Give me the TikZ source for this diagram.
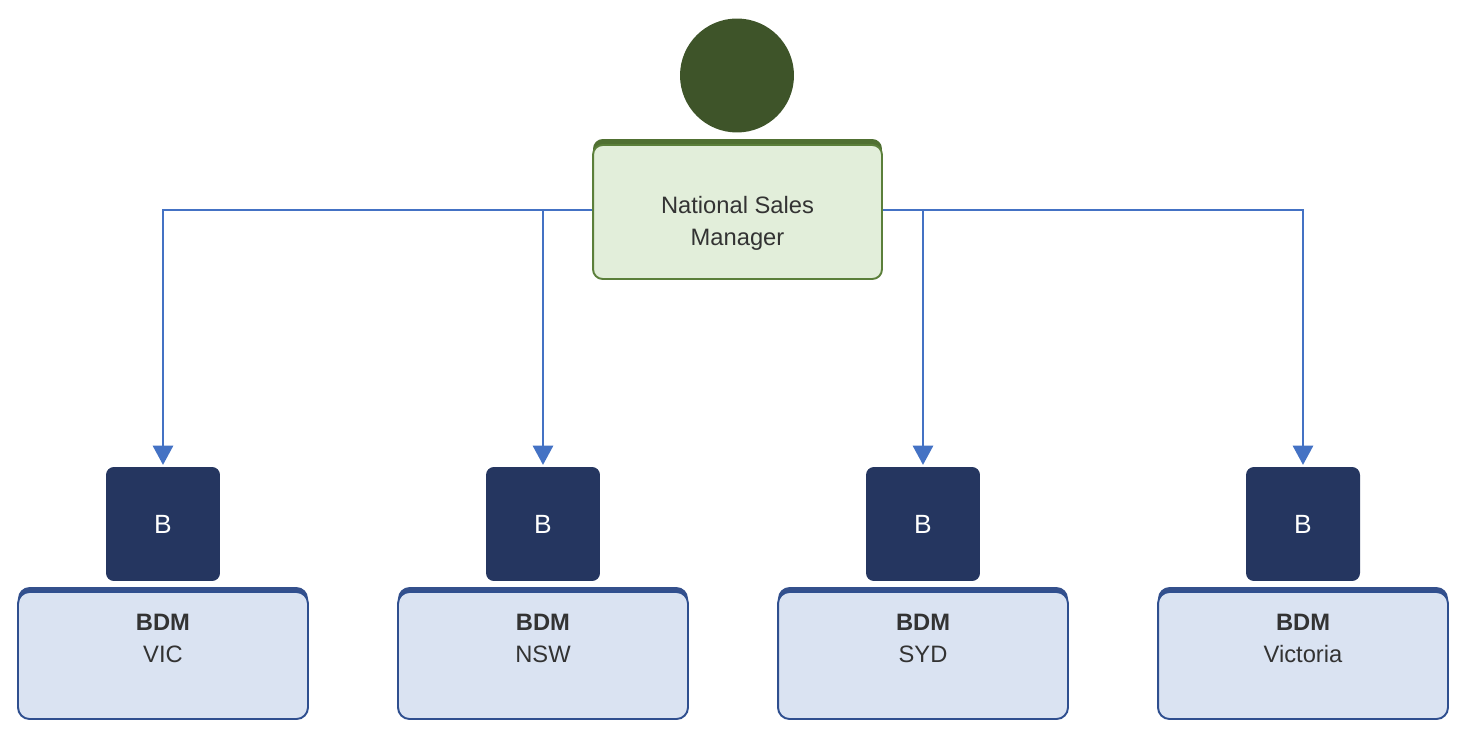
\documentclass[tikz,border=0pt]{standalone}
\usepackage{fontspec}
\setmainfont{Liberation Sans}
\usetikzlibrary{arrows.meta,positioning}
\definecolor{headgreen}{RGB}{62,84,41}
\definecolor{nsmfill}{RGB}{226,238,218}
\definecolor{nsmline}{RGB}{91,127,58}
\definecolor{nsmband}{RGB}{80,112,50}
\definecolor{bnavy}{RGB}{37,54,96}
\definecolor{bdmfill}{RGB}{218,227,242}
\definecolor{bdmline}{RGB}{47,79,143}
\definecolor{bdmband}{RGB}{52,80,140}
\definecolor{linkblue}{RGB}{68,114,196}
\definecolor{textgray}{RGB}{51,51,51}

\begin{document}
\begin{tikzpicture}[x=0.02cm,y=-0.02cm,
  txt/.style={font=\fontsize{13.5}{18.2}\selectfont,text=textgray,align=center},
  nsmbox/.style={draw=nsmline,line width=1.1pt,fill=nsmfill,rounded corners=5.5pt,
    minimum width=5.78cm,minimum height=2.68cm,
    preaction={fill=nsmband,transform canvas={yshift=3.4pt}}},
  bbox/.style={fill=bnavy,rounded corners=4.5pt,minimum size=2.28cm,inner sep=0pt,
    text=white,font=\fontsize{15}{16}\selectfont},
  bdmbox/.style={draw=bdmline,line width=1.1pt,fill=bdmfill,rounded corners=6.5pt,
    minimum width=5.8cm,minimum height=2.54cm,
    preaction={fill=bdmband,transform canvas={yshift=2.8pt}}},
  link/.style={draw=linkblue,line width=1.5pt,-{Triangle[length=11pt,width=11.5pt]},shorten >=1pt}]
\useasboundingbox (0,0) rectangle (1478,736);

% head of the chart
\node[circle,fill=headgreen,minimum size=2.28cm,inner sep=0pt] (head) at (737,75.5) {};
\node[nsmbox] (nsm) at (737.5,212) {};
\node[txt] (nsmtext) at (737.5,223) {National Sales\\Manager};

% BDM branches
\foreach \i/\x/\reg/\side in {1/163/VIC/west,2/543/NSW/west,3/923/SYD/east,4/1303/Victoria/east}
{
  \node[bdmbox] (bdm\i) at (\x,655.5) {};
  \node[txt] (bdmtext\i) at (\x,638) {\textbf{BDM}\\\reg};
  \node[bbox] (b\i) at (\x,524) {B};
  \draw[link] ([yshift=1.1pt]nsm.\side) -| (b\i.north);
}
\end{tikzpicture}
\end{document}
